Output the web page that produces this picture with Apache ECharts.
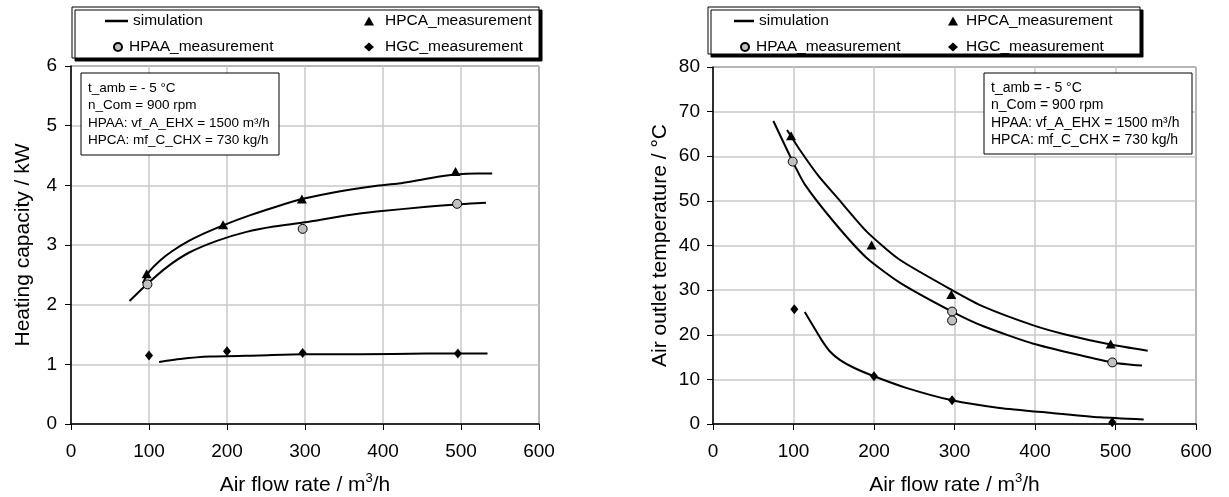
<!DOCTYPE html>
<html>
<head>
<meta charset="utf-8">
<script src="https://cdn.jsdelivr.net/npm/echarts@6/dist/echarts.min.js"></script>
<style>
  html, body { margin: 0; background: #fff; }
  #chart { width: 1229px; height: 497px; }
</style>
</head>
<body>
<div id="chart"></div>
<script>
var FONT = "Liberation Sans, Arial, sans-serif";

// left chart: heating capacity / kW
var capSimHpcaX = [92, 100, 115, 130, 150, 170, 195, 230, 265, 296, 340, 390, 420, 460, 493, 520, 540];
var capSimHpcaY = [2.36, 2.55, 2.75, 2.9, 3.06, 3.19, 3.33, 3.5, 3.65, 3.77, 3.89, 3.99, 4.03, 4.12, 4.18, 4.2, 4.2];
var capSimHpaaX = [75, 98, 123, 151, 187, 225, 260, 300, 350, 392, 456, 495, 532];
var capSimHpaaY = [2.06, 2.35, 2.63, 2.87, 3.07, 3.22, 3.31, 3.38, 3.49, 3.56, 3.64, 3.68, 3.71];
var capSimHgcX = [113, 140, 178, 242, 297, 371, 456, 534];
var capSimHgcY = [1.04, 1.09, 1.13, 1.15, 1.17, 1.17, 1.18, 1.18];
var capMeasHpcaX = [97, 195, 296, 493];
var capMeasHpcaY = [2.52, 3.34, 3.77, 4.23];
var capMeasHpaaX = [98, 297, 495];
var capMeasHpaaY = [2.34, 3.27, 3.69];
var capMeasHgcX = [100, 200, 297, 496];
var capMeasHgcY = [1.15, 1.22, 1.19, 1.18];

// right chart: air outlet temperature / °C
var tSimHpcaX = [92, 108, 131, 153, 191, 232, 298, 336, 398, 439, 494, 540];
var tSimHpcaY = [65.9, 61.4, 55.6, 51.0, 43.1, 36.8, 29.9, 26.3, 22.1, 20.0, 17.8, 16.4];
var tSimHpaaX = [75, 99, 114, 151, 191, 232, 297, 336, 398, 496, 533];
var tSimHpaaY = [67.9, 58.8, 53.7, 45.1, 37.2, 31.7, 25.2, 21.9, 18.0, 13.8, 13.1];
var tSimHgcX = [114, 125, 135, 145, 158, 175, 200, 240, 297, 356, 419, 481, 535];
var tSimHgcY = [25.1, 21.8, 18.8, 16.3, 14.3, 12.6, 10.7, 8.1, 5.3, 3.6, 2.5, 1.5, 1.0];
var tMeasHpcaX = [97, 197, 296, 494];
var tMeasHpcaY = [64.6, 40.1, 29.0, 17.9];
var tMeasHpaaX = [99, 297, 297, 496];
var tMeasHpaaY = [58.8, 25.2, 23.2, 13.8];
var tMeasHgcX = [101, 200, 297, 496];
var tMeasHgcY = [25.7, 10.7, 5.3, 0.4];

var notes = ["t_amb = - 5 °C", "n_Com = 900 rpm", "HPAA: vf_A_EHX = 1500 m³/h", "HPCA: mf_C_CHX = 730 kg/h"];

function zip(xs, ys) {
  return xs.map(function (x, i) { return [x, ys[i]]; });
}

function simLine(xs, ys, idx) {
  return {
    name: "simulation", type: "line", xAxisIndex: idx, yAxisIndex: idx,
    data: zip(xs, ys), symbol: "none", smooth: 0.2,
    lineStyle: { color: "#000", width: 2 }, itemStyle: { color: "#000" }, z: 3
  };
}

function meas(name, xs, ys, idx, symbol, size, fill) {
  return {
    name: name, type: "scatter", xAxisIndex: idx, yAxisIndex: idx,
    data: zip(xs, ys), symbol: symbol, symbolSize: size,
    itemStyle: { color: fill, borderColor: "#000", borderWidth: fill === "#000" ? 0 : 1, opacity: 1 }, z: 5
  };
}

function xAx(idx) {
  return {
    type: "value", gridIndex: idx, min: 0, max: 600, interval: 100,
    name: "{a|Air flow rate / m}{s|3}{a|/h}", nameLocation: "middle", nameGap: 48,
    nameTextStyle: {
      color: "#000", fontFamily: FONT,
      rich: { a: { fontSize: 21, fontFamily: FONT, color: "#000", verticalAlign: "bottom", lineHeight: 24 },
              s: { fontSize: 13, fontFamily: FONT, color: "#000", verticalAlign: "top", lineHeight: 13 } }
    },
    axisLine: { lineStyle: { color: "#000", width: 1.5 } },
    axisTick: { show: true, length: 6, lineStyle: { color: "#000" } },
    axisLabel: { color: "#000", fontSize: 19, fontFamily: FONT, margin: 18 },
    splitLine: { show: true, lineStyle: { color: "#c8c8c8", width: 1.5 } }
  };
}

function yAx(idx, name, max, interval, gap, margin) {
  return {
    type: "value", gridIndex: idx, min: 0, max: max, interval: interval,
    name: name, nameLocation: "middle", nameGap: gap, nameRotate: 90,
    nameTextStyle: { color: "#000", fontSize: 21, fontFamily: FONT },
    axisLine: { show: true, lineStyle: { color: "#000", width: 1.5 } },
    axisTick: { show: true, length: 6, lineStyle: { color: "#000" } },
    axisLabel: { color: "#000", fontSize: 19, fontFamily: FONT, margin: margin },
    splitLine: { show: true, lineStyle: { color: "#c8c8c8", width: 1.5 } }
  };
}

function legendItem(name, icon, left, top, w, h, pad) {
  var item = { name: name };
  if (icon) item.icon = icon;
  return {
    data: [item], left: left, top: top, orient: "horizontal",
    itemWidth: w, itemHeight: h, itemGap: 0, padding: 0, selectedMode: false,
    textStyle: { color: "#000", fontSize: 15.5, fontFamily: FONT, padding: [0, 0, 0, pad] }
  };
}

function legendBox(x, y, w, h) {
  return {
    type: "rect", z: 0, shape: { x: x, y: y, width: w, height: h },
    style: { fill: "#fff", stroke: "#000", lineWidth: 1, shadowColor: "#000", shadowOffsetX: 3, shadowOffsetY: 3, shadowBlur: 0 }
  };
}

function noteBox(x, y, w, h, size) {
  return [
    { type: "rect", z: 20, shape: { x: x, y: y, width: w, height: h },
      style: { fill: "#fff", stroke: "#000", lineWidth: 1 } },
    { type: "text", z: 21, x: x + 7, y: y + 6,
      style: { text: notes.join("\n"), fill: "#000", font: size + "px " + FONT, lineHeight: 17.6 } }
  ];
}

var chart = echarts.init(document.getElementById("chart"));
chart.setOption({
  animation: false,
  backgroundColor: "#fff",
  grid: [
    { left: 71, top: 66, width: 468, height: 358, show: true, borderColor: "#000", borderWidth: 1, outerBoundsMode: "none" },
    { left: 713, top: 67, width: 483, height: 357, show: true, borderColor: "#000", borderWidth: 1, outerBoundsMode: "none" }
  ],
  xAxis: [xAx(0), xAx(1)],
  yAxis: [
    yAx(0, "Heating capacity / kW", 6, 1, 37, 14),
    yAx(1, "Air outlet temperature / °C", 80, 10, 42, 13)
  ],
  legend: [
    legendItem("simulation", "rect", 105, 13, 23, 2.5, 0),
    legendItem("HPAA_measurement", null, 113, 39, 8, 8, 2),
    legendItem("HPCA_measurement", null, 364, 13, 10, 9, 6),
    legendItem("HGC_measurement", null, 364, 39, 10, 9, 6),
    legendItem("simulation", "rect", 734, 13, 20, 2.5, 0),
    legendItem("HPAA_measurement", null, 740, 39, 8, 8, 2),
    legendItem("HPCA_measurement", null, 948, 13, 10, 9, 3),
    legendItem("HGC_measurement", null, 948, 39, 10, 9, 3)
  ],
  graphic: [legendBox(72, 7, 467, 51), legendBox(708, 7, 432, 47)]
    .concat(noteBox(81, 73, 198, 82, 13.5))
    .concat(noteBox(984, 73, 208, 81, 14)),
  series: [
    simLine(capSimHpcaX, capSimHpcaY, 0),
    simLine(capSimHpaaX, capSimHpaaY, 0),
    simLine(capSimHgcX, capSimHgcY, 0),
    meas("HPCA_measurement", capMeasHpcaX, capMeasHpcaY, 0, "triangle", [10, 9], "#000"),
    meas("HPAA_measurement", capMeasHpaaX, capMeasHpaaY, 0, "circle", 9, "#c0c0c0"),
    meas("HGC_measurement", capMeasHgcX, capMeasHgcY, 0, "diamond", [8, 10], "#000"),
    simLine(tSimHpcaX, tSimHpcaY, 1),
    simLine(tSimHpaaX, tSimHpaaY, 1),
    simLine(tSimHgcX, tSimHgcY, 1),
    meas("HPCA_measurement", tMeasHpcaX, tMeasHpcaY, 1, "triangle", [10, 9], "#000"),
    meas("HPAA_measurement", tMeasHpaaX, tMeasHpaaY, 1, "circle", 9, "#c0c0c0"),
    meas("HGC_measurement", tMeasHgcX, tMeasHgcY, 1, "diamond", [8, 10], "#000")
  ]
});
</script>
</body>
</html>
